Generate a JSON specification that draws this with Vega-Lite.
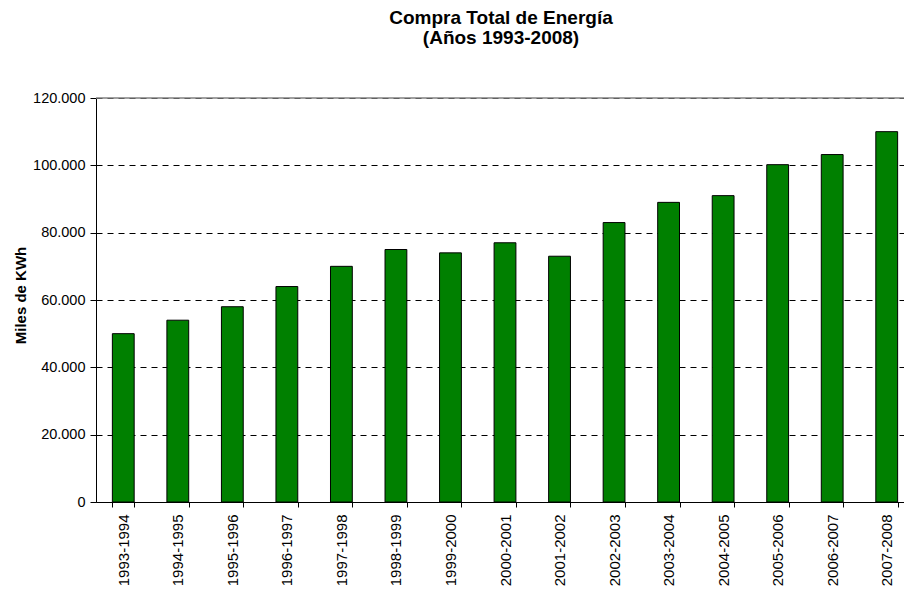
{
  "$schema": "https://vega.github.io/schema/vega-lite/v6.json",
  "width": 818,
  "height": 404,
  "autosize": {"type": "none"},
  "padding": {"left": 96, "top": 98, "right": -10, "bottom": 87},
  "background": "white",
  "title": {
    "text": ["Compra Total de Energía", "(Años 1993-2008)"],
    "font": "Liberation Sans",
    "fontSize": 19,
    "fontWeight": "bold",
    "color": "black",
    "anchor": "middle",
    "frame": "group",
    "dx": -4,
    "offset": 42,
    "lineHeight": 20
  },
  "config": {
    "view": {"stroke": null},
    "font": "Liberation Sans"
  },
  "data": {
    "values": [
      {"periodo": "1993-1994", "valor": 50000},
      {"periodo": "1994-1995", "valor": 54000},
      {"periodo": "1995-1996", "valor": 58000},
      {"periodo": "1996-1997", "valor": 64000},
      {"periodo": "1997-1998", "valor": 70000},
      {"periodo": "1998-1999", "valor": 75000},
      {"periodo": "1999-2000", "valor": 74000},
      {"periodo": "2000-2001", "valor": 77000},
      {"periodo": "2001-2002", "valor": 73000},
      {"periodo": "2002-2003", "valor": 83000},
      {"periodo": "2003-2004", "valor": 89000},
      {"periodo": "2004-2005", "valor": 91000},
      {"periodo": "2005-2006", "valor": 100200},
      {"periodo": "2006-2007", "valor": 103200},
      {"periodo": "2007-2008", "valor": 110000}
    ]
  },
  "layer": [
    {
      "data": {"values": [{"top": 120000}]},
      "mark": {"type": "rule", "color": "#808080", "strokeWidth": 1.5},
      "encoding": {
        "y": {"field": "top", "type": "quantitative", "scale": {"domain": [0, 120000]}}
      }
    },
    {
      "mark": {"type": "bar", "color": "#008000", "stroke": "black", "strokeWidth": 1},
      "encoding": {
        "x": {
          "field": "periodo",
          "type": "nominal",
          "sort": null,
          "scale": {"paddingInner": 0.6, "paddingOuter": 0.3},
          "axis": {
            "title": null,
            "tickBand": "extent",
            "labelAngle": -90,
            "labelFontSize": 15,
            "labelColor": "black",
            "labelPadding": 7,
            "tickSize": 5,
            "tickColor": "black",
            "domainColor": "black",
            "grid": false
          }
        },
        "y": {
          "field": "valor",
          "type": "quantitative",
          "scale": {"domain": [0, 120000], "nice": false},
          "axis": {
            "title": "Miles de KWh",
            "titleFontSize": 15,
            "titleFontWeight": "bold",
            "titleColor": "black",
            "titleX": -76,
            "titleY": 197,
            "titleAlign": "center",
            "titleBaseline": "middle",
            "titleAngle": -90,
            "values": [0, 20000, 40000, 60000, 80000, 100000, 120000],
            "labelExpr": "replace(format(datum.value, ','), ',', '.')",
            "labelFontSize": 14.5,
            "labelColor": "black",
            "labelPadding": 5,
            "tickSize": 6,
            "tickColor": "black",
            "domainColor": "black",
            "grid": true,
            "gridColor": "black",
            "gridDash": [6, 5],
            "gridWidth": 1
          }
        }
      }
    }
  ]
}
